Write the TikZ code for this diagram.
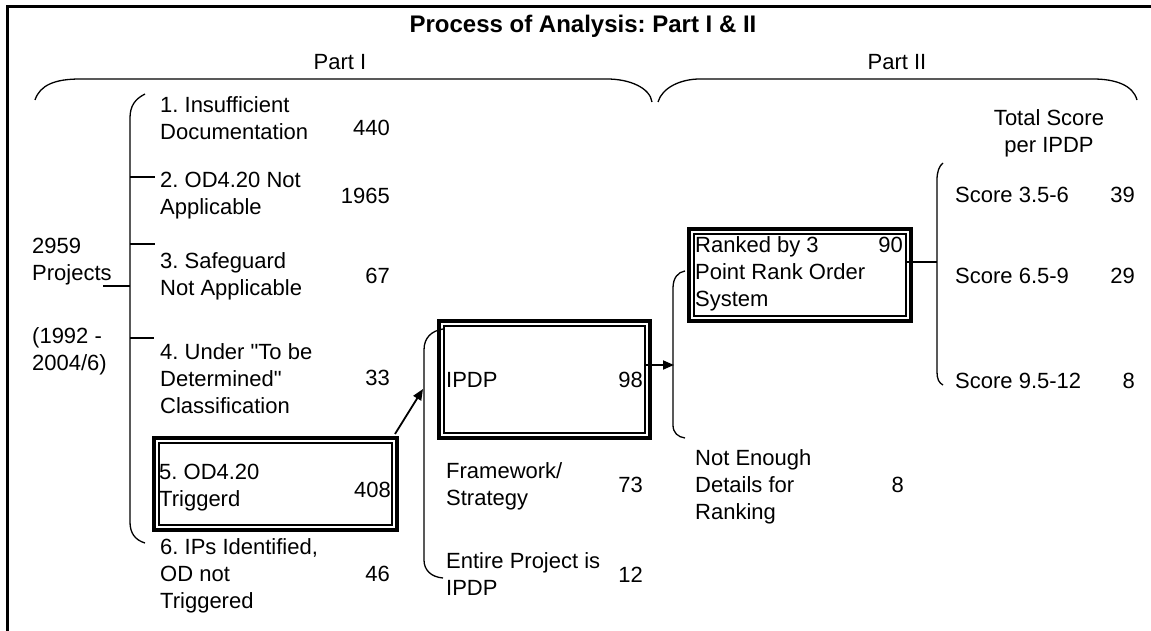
\documentclass[tikz,border=0pt]{standalone}
\usepackage{fontspec}
\setmainfont{Liberation Sans}
\usetikzlibrary{arrows.meta}
% stacked lines with the first line's baseline as the node baseline
\newcommand{\stk}[2][l]{\begin{tabular}[t]{@{}#1@{}}#2\end{tabular}}
% straight double quote, set as a glyph so the TeX mapping leaves it alone
\newcommand{\dq}{\XeTeXglyph\XeTeXcharglyph34\relax}

\begin{document}
\frenchspacing
\begin{tikzpicture}[x=1pt,y=-1pt,
  lbl/.style={inner sep=0pt, anchor=base west, font=\fontsize{22}{27}\selectfont},
  num/.style={inner sep=0pt, anchor=base east, font=\fontsize{22}{27}\selectfont},
  brk/.style={line width=1.3pt},
  frm/.style={line width=3pt},
  dblout/.style={draw, line width=4pt, inner sep=0pt, outer sep=0pt},
  dblin/.style={line width=1.8pt},
  arr/.style={line width=1.8pt, -{Triangle[length=11pt,width=9pt]}},
  link/.style={line width=1.3pt}]
\useasboundingbox (0,0) rectangle (1151,631);

% frame (top and left sides)
\draw[frm] (7,631) -- (7,6.5) -- (1151,6.5);

% title and part headings
\node[inner sep=0pt, anchor=base, font=\fontsize{24}{28}\selectfont\bfseries] (title) at (583,33) {Process of Analysis: Part I \& II};
\node[lbl, anchor=base] (p1) at (340,70) {Part I};
\node[lbl, anchor=base] (p2) at (897,70) {Part II};

% top braces
\draw[brk] (35,100) .. controls (40,85) and (55,79) .. (80,79) -- (607,79)
  .. controls (630,79) and (650,88) .. (652,102);
\draw[brk] (658,102) .. controls (662,88) and (680,79) .. (700,79) -- (1093,79)
  .. controls (1115,79) and (1133,85) .. (1137,100);

% starting population
\node[lbl] (proj) at (32,253) {\stk{2959\\Projects}};
\node[lbl] (years) at (32,343) {\stk{(1992 -\\2004/6)}};

% Part I categories
\node[lbl] (c1) at (160,113) {\stk{1. Insufficient\\Documentation}};
\node[num] (n1) at (390,136) {440};
\node[lbl] (c2) at (160,188) {\stk{2. OD4.20 Not\\Applicable}};
\node[num] (n2) at (390,204) {1965};
\node[lbl] (c3) at (160,268) {\stk{3. Safeguard\\Not Applicable}};
\node[num] (n3) at (390,283) {67};
\node[lbl] (c4) at (160,359) {\stk{4. Under \dq To be\\Determined\dq\\Classification}};
\node[num] (n4) at (390,385) {33};
\node[lbl] (c5) at (159,479) {\stk{5. OD4.20\\Triggerd}};
\node[num] (n5) at (391,497) {408};
\node[lbl] (c6) at (160,554) {\stk{6. IPs Identified,\\OD not\\Triggered}};
\node[num] (n6) at (390,581) {46};

% category bracket and its ticks
\draw[brk] (145,94) .. controls (135,99) and (130,106) .. (130,118) -- (130,522)
  .. controls (130,533) and (135,540) .. (145,543);
\coordinate (k1) at (130,177); \coordinate (k1e) at (155,177);
\coordinate (k2) at (130,244); \coordinate (k2e) at (155,244);
\coordinate (k3) at (130,338); \coordinate (k3e) at (154,338);
\coordinate (k0) at (103,286); \coordinate (k0e) at (130,286);
\draw[link] (k1) -- (k1e);
\draw[link] (k2) -- (k2e);
\draw[link] (k3) -- (k3e);
\draw[link] (k0) -- (k0e);

% triggered box
\node[dblout, minimum width=243pt, minimum height=92pt] (b5) at (275.5,484) {};
\draw[dblin] ([shift={(4.8,4.8)}]b5.north west) rectangle ([shift={(-4.8,-4.8)}]b5.south east);

% IPDP split
\node[dblout, minimum width=211pt, minimum height=117pt] (ipdp) at (544.5,379.5) {};
\draw[dblin] ([shift={(4.8,4.8)}]ipdp.north west) rectangle ([shift={(-4.8,-4.8)}]ipdp.south east);
\node[lbl] (d1) at (446,387) {IPDP};
\node[num] (m1) at (643,387) {98};
\node[lbl] (d2) at (446,478) {\stk{Framework/\\Strategy}};
\node[num] (m2) at (643,492) {73};
\node[lbl] (d3) at (446,568) {\stk{Entire Project is\\IPDP}};
\node[num] (m3) at (643,582) {12};

\draw[brk] (443,329) .. controls (431,331) and (424,338) .. (424,350) -- (424,560)
  .. controls (424,570) and (431,577) .. (443,578);
\coordinate (bI) at (423,389);
\draw[arr] ([shift={(-2,-4)}]b5.north east) -- (bI);

% Part II ranking
\node[dblout, minimum width=222pt, minimum height=92pt] (rk) at (800,275) {};
\draw[dblin] ([shift={(4.8,4.8)}]rk.north west) rectangle ([shift={(-4.8,-4.8)}]rk.south east);
\node[lbl] (r1) at (695,252) {\stk{Ranked by 3\\Point Rank Order\\System}};
\node[num] (q1) at (903,252) {90};
\node[lbl] (r2) at (695,465) {\stk{Not Enough\\Details for\\Ranking}};
\node[num] (q2) at (904,492) {8};

\draw[brk] (685,271) .. controls (678,272) and (673,278) .. (673,288) -- (673,425)
  .. controls (673,433) and (678,437) .. (685,438);
\coordinate (bR) at (674,365);
\draw[arr] ([shift={(-6,-14.5)}]ipdp.east) -- (bR);

% total scores
\node[lbl, anchor=base] (ts) at (1049,126) {\stk[c]{Total Score\\per IPDP}};
\node[lbl] (s1) at (955,203) {Score 3.5-6};
\node[num] (v1) at (1135,203) {39};
\node[lbl] (s2) at (955,283) {Score 6.5-9};
\node[num] (v2) at (1135,283) {29};
\node[lbl] (s3) at (955,388) {Score 9.5-12};
\node[num] (v3) at (1135,388) {8};

\draw[brk] (943,163) .. controls (939,166) and (937,172) .. (937,180) -- (937,372)
  .. controls (937,379) and (939,383) .. (943,385);
\coordinate (bS) at (937,262);
\draw[link] ([shift={(-4,-13)}]rk.east) -- (bS);
\end{tikzpicture}
\end{document}
